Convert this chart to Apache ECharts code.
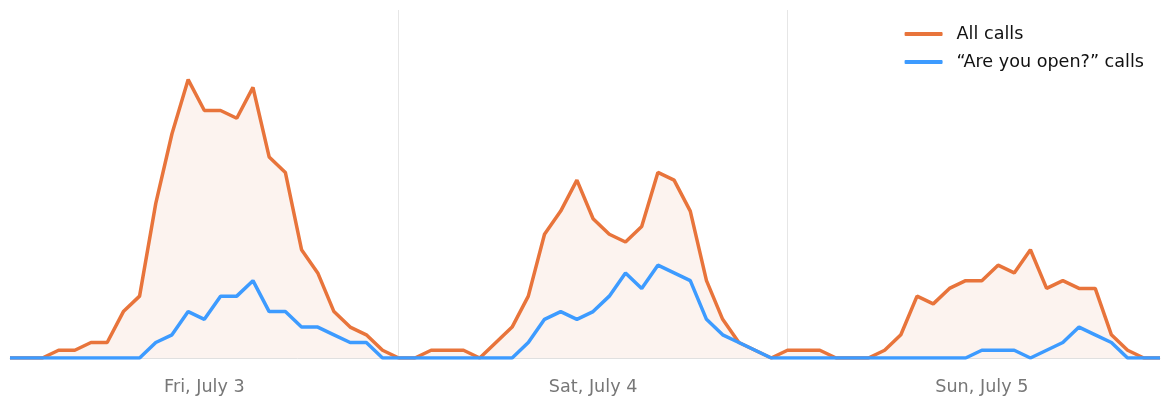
<!DOCTYPE html>
<html>
<head>
<meta charset="utf-8">
<script src="https://cdn.jsdelivr.net/npm/echarts@6/dist/echarts.min.js"></script>
<style>html,body{margin:0;padding:0;background:#fff}#c{width:1170px;height:408px}</style>
</head>
<body>
<div id="c"></div>
<script>
const hours = [];
for (let d = 0; d < 3; d++) for (let h = 0; h < 24; h++) hours.push(d * 24 + h);
const dayLabels = ["Fri, July 3", "Sat, July 4", "Sun, July 5"];
const seriesNames = ["All calls", "\u201cAre you open?\u201d calls"];
const allCalls = [
  0,0,0,1,1,2,2,6,8,20,29,36,32,32,31,35,26,24,14,11,6,4,3,1,
  0,0,1,1,1,0,2,4,8,16,19,23,18,16,15,17,24,23,19,10,5,2,1,0,
  1,1,1,0,0,0,1,3,8,7,9,10,10,12,11,14,9,10,9,9,3,1,0,0
];
const openCalls = [
  0,0,0,0,0,0,0,0,0,2,3,6,5,8,8,10,6,6,4,4,3,2,2,0,
  0,0,0,0,0,0,0,0,2,5,6,5,6,8,11,9,12,11,10,5,3,2,1,0,
  0,0,0,0,0,0,0,0,0,0,0,0,1,1,1,0,1,2,4,3,2,0,0,0
];

const FONT = '"DejaVu Sans", sans-serif';
const chart = echarts.init(document.getElementById('c'));
chart.setOption({
  animation: false,
  textStyle: { fontFamily: FONT },
  legend: {
    right: 21, top: 20, orient: 'vertical', itemWidth: 38, itemHeight: 4, itemGap: 10,
    icon: 'roundRect',
    textStyle: { fontSize: 17.6, color: '#111', fontFamily: FONT, padding: [0, 0, 0, 9] },
    data: seriesNames
  },
  grid: { left: 10, right: 10, top: 10, bottom: 50, containLabel: false },
  xAxis: {
    type: 'category', data: hours, boundaryGap: false,
    axisLine: { show: true, lineStyle: { color: '#e0e0e0', width: 1 } },
    axisTick: { show: false },
    axisLabel: {
      interval: (i) => i % 24 === 12,
      formatter: (v, i) => dayLabels[Math.floor(i / 24)],
      color: '#777', fontSize: 17.6, margin: 20, fontFamily: FONT
    },
    splitLine: { show: true, interval: (i) => i === 24 || i === 48, lineStyle: { color: '#e6e6e6', width: 1 } }
  },
  yAxis: { type: 'value', min: 0, max: 45, show: false, splitLine: { show: false } },
  series: [
    { name: seriesNames[0], type: 'line', data: allCalls, symbol: 'none', color: '#E8743B',
      lineStyle: { width: 3.5, color: '#E8743B' }, areaStyle: { color: '#FCF3EF', opacity: 1 }, z: 2 },
    { name: seriesNames[1], type: 'line', data: openCalls, symbol: 'none', color: '#3D9BFF',
      lineStyle: { width: 3.5, color: '#3D9BFF' }, z: 3 }
  ]
});
</script>
</body>
</html>
